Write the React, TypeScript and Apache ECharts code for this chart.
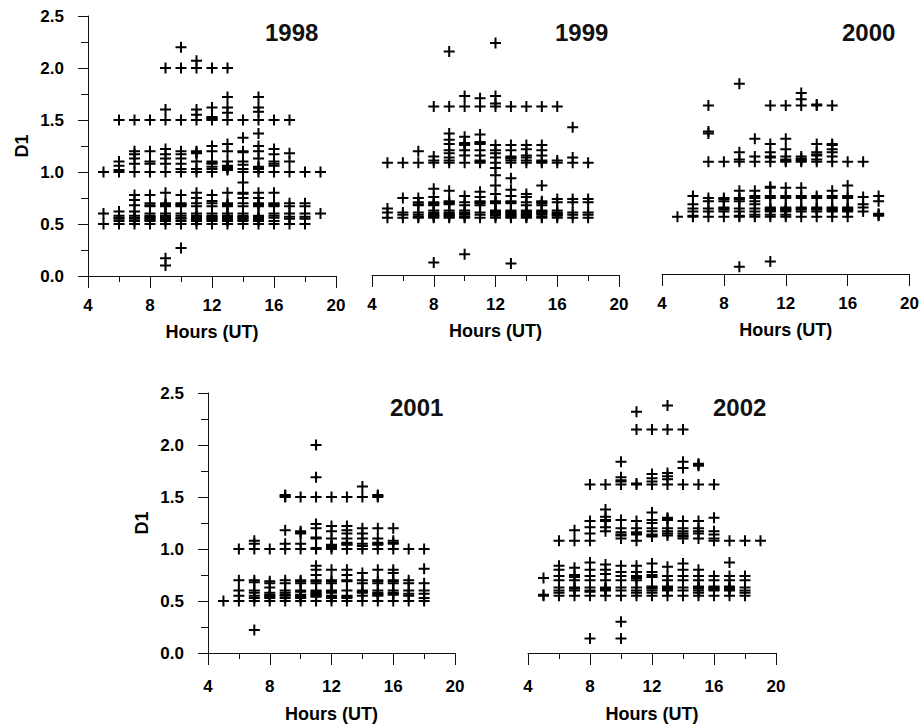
import React, { useEffect, useRef } from "react";
import * as echarts from "echarts";

// Hour (UT) -> list of D1 values, per year
const d1998: [number, number[]][] = [
  [5, [1.0, 0.6, 0.5]],
  [6, [1.5, 1.1, 1.06, 1.02, 1.0, 0.62, 0.58, 0.56, 0.55, 0.53, 0.5]],
  [7, [1.5, 1.2, 1.17, 1.13, 1.08, 1.0, 0.78, 0.73, 0.68, 0.62, 0.58, 0.56, 0.55, 0.53, 0.5]],
  [8, [1.5, 1.2, 1.1, 1.08, 1.0, 0.78, 0.7, 0.68, 0.67, 0.6, 0.58, 0.57, 0.56, 0.55, 0.54, 0.53, 0.5]],
  [9, [2.0, 1.6, 1.5, 1.22, 1.17, 1.13, 1.08, 1.0, 0.8, 0.7, 0.69, 0.68, 0.67, 0.6, 0.58, 0.57, 0.56, 0.55, 0.54, 0.53, 0.5, 0.17, 0.1]],
  [10, [2.2, 2.0, 1.5, 1.2, 1.17, 1.13, 1.08, 1.03, 1.0, 0.78, 0.7, 0.69, 0.68, 0.67, 0.6, 0.58, 0.56, 0.55, 0.53, 0.5, 0.27]],
  [11, [2.07, 2.0, 1.6, 1.55, 1.5, 1.2, 1.19, 1.18, 1.1, 1.03, 1.0, 0.8, 0.75, 0.7, 0.67, 0.6, 0.58, 0.57, 0.56, 0.55, 0.54, 0.53, 0.5]],
  [12, [2.0, 1.62, 1.53, 1.52, 1.51, 1.5, 1.25, 1.2, 1.1, 1.09, 1.08, 1.05, 1.03, 1.0, 0.78, 0.72, 0.7, 0.67, 0.6, 0.58, 0.57, 0.56, 0.55, 0.54, 0.53, 0.5]],
  [13, [2.0, 1.72, 1.62, 1.57, 1.5, 1.27, 1.2, 1.1, 1.06, 1.05, 1.04, 1.03, 1.02, 0.8, 0.7, 0.69, 0.68, 0.67, 0.6, 0.58, 0.57, 0.56, 0.55, 0.54, 0.53, 0.5]],
  [14, [1.5, 1.33, 1.2, 1.19, 1.1, 1.07, 1.03, 1.0, 0.9, 0.8, 0.79, 0.75, 0.7, 0.67, 0.6, 0.58, 0.57, 0.56, 0.55, 0.54, 0.53, 0.5]],
  [15, [1.72, 1.62, 1.58, 1.5, 1.37, 1.25, 1.2, 1.13, 1.05, 1.04, 1.03, 1.0, 0.8, 0.75, 0.7, 0.69, 0.68, 0.67, 0.58, 0.57, 0.56, 0.55, 0.54, 0.53, 0.5]],
  [16, [1.5, 1.22, 1.17, 1.1, 1.08, 1.06, 1.0, 0.8, 0.7, 0.69, 0.68, 0.67, 0.6, 0.58, 0.56, 0.53, 0.5]],
  [17, [1.5, 1.18, 1.1, 1.0, 0.7, 0.67, 0.6, 0.57, 0.55, 0.5]],
  [18, [1.0, 0.7, 0.67, 0.6, 0.57, 0.55, 0.5]],
  [19, [1.0, 0.6]],
];

const d1999: [number, number[]][] = [
  [5, [1.08, 0.64, 0.6, 0.55]],
  [6, [1.08, 0.74, 0.6, 0.58, 0.55]],
  [7, [1.19, 1.08, 0.74, 0.7, 0.68, 0.67, 0.6, 0.58, 0.56, 0.55]],
  [8, [1.62, 1.14, 1.1, 1.08, 0.83, 0.75, 0.7, 0.69, 0.68, 0.67, 0.62, 0.6, 0.59, 0.58, 0.57, 0.56, 0.55, 0.12]],
  [9, [2.15, 1.62, 1.36, 1.3, 1.26, 1.2, 1.17, 1.13, 1.1, 1.08, 0.81, 0.71, 0.7, 0.69, 0.68, 0.62, 0.6, 0.59, 0.58, 0.57, 0.56, 0.55]],
  [10, [1.72, 1.62, 1.33, 1.27, 1.26, 1.25, 1.2, 1.15, 1.08, 0.76, 0.7, 0.67, 0.62, 0.6, 0.59, 0.58, 0.56, 0.55, 0.2]],
  [11, [1.7, 1.62, 1.35, 1.28, 1.27, 1.26, 1.2, 1.15, 1.1, 1.09, 1.08, 0.8, 0.75, 0.71, 0.7, 0.69, 0.67, 0.6, 0.58, 0.55]],
  [12, [2.23, 1.72, 1.65, 1.62, 1.25, 1.2, 1.17, 1.13, 1.08, 1.03, 0.96, 0.86, 0.78, 0.71, 0.7, 0.69, 0.62, 0.61, 0.6, 0.59, 0.58, 0.57, 0.55]],
  [13, [1.62, 1.25, 1.2, 1.14, 1.13, 1.12, 1.1, 1.08, 0.93, 0.82, 0.76, 0.71, 0.7, 0.69, 0.62, 0.61, 0.6, 0.59, 0.58, 0.57, 0.56, 0.55, 0.11]],
  [14, [1.62, 1.25, 1.21, 1.15, 1.13, 1.1, 1.08, 0.78, 0.75, 0.7, 0.67, 0.62, 0.61, 0.6, 0.59, 0.58, 0.57, 0.56, 0.55]],
  [15, [1.62, 1.25, 1.2, 1.15, 1.1, 1.09, 1.08, 0.86, 0.71, 0.7, 0.69, 0.67, 0.62, 0.61, 0.6, 0.59, 0.58, 0.56, 0.55]],
  [16, [1.62, 1.1, 1.08, 0.73, 0.7, 0.62, 0.6, 0.59, 0.58, 0.57, 0.55]],
  [17, [1.42, 1.13, 1.08, 0.73, 0.7, 0.6, 0.58, 0.55]],
  [18, [1.08, 0.73, 0.7, 0.6, 0.58, 0.55]],
];

const d2000: [number, number[]][] = [
  [5, [0.55]],
  [6, [0.75, 0.67, 0.63, 0.6, 0.56, 0.55]],
  [7, [1.62, 1.37, 1.35, 1.08, 0.73, 0.7, 0.63, 0.6, 0.55]],
  [8, [1.08, 0.73, 0.72, 0.7, 0.64, 0.63, 0.62, 0.6, 0.55]],
  [9, [1.83, 1.17, 1.1, 1.08, 0.8, 0.73, 0.72, 0.7, 0.63, 0.6, 0.56, 0.55, 0.07]],
  [10, [1.3, 1.13, 1.08, 0.8, 0.75, 0.73, 0.7, 0.67, 0.63, 0.6, 0.57, 0.55]],
  [11, [1.62, 1.25, 1.17, 1.13, 1.12, 1.08, 0.84, 0.83, 0.75, 0.73, 0.64, 0.63, 0.62, 0.61, 0.6, 0.57, 0.55, 0.12]],
  [12, [1.62, 1.3, 1.2, 1.13, 1.1, 1.09, 1.08, 0.83, 0.75, 0.73, 0.64, 0.63, 0.62, 0.61, 0.6, 0.57, 0.55]],
  [13, [1.74, 1.68, 1.62, 1.13, 1.11, 1.1, 1.09, 1.08, 0.83, 0.75, 0.73, 0.64, 0.63, 0.62, 0.6, 0.55]],
  [14, [1.63, 1.62, 1.25, 1.17, 1.15, 1.14, 1.1, 1.08, 0.75, 0.73, 0.64, 0.63, 0.62, 0.6, 0.55]],
  [15, [1.62, 1.25, 1.24, 1.2, 1.17, 1.13, 1.08, 0.8, 0.75, 0.73, 0.64, 0.63, 0.62, 0.61, 0.6, 0.55]],
  [16, [1.08, 0.85, 0.75, 0.73, 0.64, 0.63, 0.62, 0.61, 0.6, 0.55]],
  [17, [1.08, 0.74, 0.67, 0.64, 0.6]],
  [18, [0.75, 0.7, 0.58, 0.57, 0.56]],
];

const d2001: [number, number[]][] = [
  [5, [0.5]],
  [6, [1.0, 0.7, 0.6, 0.55, 0.5]],
  [7, [1.08, 1.05, 1.0, 0.7, 0.68, 0.6, 0.58, 0.55, 0.53, 0.5, 0.22]],
  [8, [1.0, 0.69, 0.67, 0.63, 0.58, 0.56, 0.55, 0.54, 0.53, 0.5]],
  [9, [1.52, 1.51, 1.5, 1.18, 1.05, 1.0, 0.7, 0.67, 0.6, 0.58, 0.56, 0.55, 0.53, 0.5]],
  [10, [1.5, 1.17, 1.16, 1.15, 1.05, 1.0, 0.7, 0.69, 0.67, 0.6, 0.59, 0.56, 0.55, 0.54, 0.53, 0.5]],
  [11, [2.0, 1.69, 1.5, 1.24, 1.2, 1.11, 1.1, 1.01, 1.0, 0.84, 0.8, 0.75, 0.7, 0.69, 0.67, 0.6, 0.59, 0.58, 0.57, 0.56, 0.55, 0.54, 0.5]],
  [12, [1.5, 1.22, 1.17, 1.1, 1.04, 1.03, 1.02, 1.0, 0.8, 0.7, 0.69, 0.67, 0.6, 0.59, 0.58, 0.55, 0.54, 0.53, 0.5]],
  [13, [1.5, 1.22, 1.18, 1.15, 1.1, 1.06, 1.05, 1.04, 1.0, 0.8, 0.75, 0.7, 0.69, 0.6, 0.55, 0.54, 0.53, 0.5]],
  [14, [1.6, 1.5, 1.2, 1.15, 1.1, 1.05, 1.03, 1.0, 0.77, 0.7, 0.67, 0.6, 0.59, 0.58, 0.55, 0.5]],
  [15, [1.52, 1.51, 1.5, 1.2, 1.1, 1.06, 1.05, 1.04, 1.0, 0.8, 0.7, 0.69, 0.67, 0.6, 0.58, 0.57, 0.56, 0.55, 0.5]],
  [16, [1.2, 1.08, 1.06, 1.05, 1.0, 0.8, 0.77, 0.7, 0.69, 0.67, 0.6, 0.58, 0.57, 0.56, 0.5]],
  [17, [1.0, 0.7, 0.67, 0.6, 0.57, 0.55, 0.5]],
  [18, [1.0, 0.81, 0.67, 0.6, 0.57, 0.53, 0.5]],
];

const d2002: [number, number[]][] = [
  [5, [0.72, 0.56, 0.55]],
  [6, [1.08, 0.84, 0.8, 0.74, 0.7, 0.63, 0.6, 0.58, 0.55]],
  [7, [1.18, 1.08, 0.82, 0.75, 0.73, 0.7, 0.63, 0.62, 0.6, 0.55]],
  [8, [1.62, 1.27, 1.21, 1.15, 1.08, 0.87, 0.8, 0.74, 0.7, 0.63, 0.6, 0.59, 0.55, 0.14]],
  [9, [1.62, 1.38, 1.31, 1.28, 1.27, 1.21, 1.17, 0.85, 0.8, 0.76, 0.7, 0.63, 0.62, 0.61, 0.6, 0.55]],
  [10, [1.84, 1.69, 1.66, 1.65, 1.62, 1.28, 1.2, 1.16, 1.14, 1.13, 1.1, 0.84, 0.78, 0.74, 0.7, 0.63, 0.6, 0.55, 0.3, 0.14]],
  [11, [2.32, 2.15, 1.63, 1.62, 1.27, 1.2, 1.16, 1.15, 1.14, 1.08, 0.84, 0.78, 0.74, 0.73, 0.72, 0.7, 0.63, 0.6, 0.58, 0.55]],
  [12, [2.15, 1.72, 1.68, 1.65, 1.62, 1.35, 1.28, 1.25, 1.2, 1.17, 1.14, 1.13, 1.12, 0.86, 0.78, 0.75, 0.73, 0.64, 0.63, 0.62, 0.6, 0.58, 0.55]],
  [13, [2.38, 2.15, 1.73, 1.7, 1.67, 1.62, 1.3, 1.29, 1.28, 1.2, 1.17, 1.15, 1.13, 0.83, 0.74, 0.7, 0.64, 0.63, 0.62, 0.61, 0.6, 0.55]],
  [14, [2.15, 1.84, 1.78, 1.62, 1.27, 1.2, 1.17, 1.15, 1.13, 1.12, 1.1, 0.86, 0.8, 0.74, 0.7, 0.63, 0.6, 0.55]],
  [15, [1.82, 1.81, 1.8, 1.62, 1.27, 1.2, 1.17, 1.15, 1.1, 0.8, 0.74, 0.7, 0.64, 0.63, 0.62, 0.6, 0.58, 0.55]],
  [16, [1.62, 1.3, 1.17, 1.14, 1.1, 1.08, 0.74, 0.7, 0.64, 0.63, 0.62, 0.61, 0.6, 0.55]],
  [17, [1.08, 0.87, 0.74, 0.7, 0.64, 0.63, 0.62, 0.61, 0.6, 0.55]],
  [18, [1.08, 0.74, 0.7, 0.63, 0.6, 0.58, 0.55]],
  [19, [1.08]],
];

const years = ["1998", "1999", "2000", "2001", "2002"];
const yearData = [d1998, d1999, d2000, d2001, d2002];

const FONT = "'Liberation Sans', Arial, Helvetica, sans-serif";
const PLUS = "path://M9,0 H13 V9 H22 V13 H13 V22 H9 V13 H0 V9 H9 Z";

// layout of each panel (plot area)
const panels = [
  { left: 88, top: 16, width: 248, height: 260, yAxis: true, minor: true, titleX: 265, titleY: 20, labGap: 21, nameGap: 47 },
  { left: 372, top: 15, width: 247, height: 260, yAxis: false, minor: true, titleX: 555, titleY: 20, labGap: 21, nameGap: 47 },
  { left: 662, top: 14, width: 248, height: 260, yAxis: false, minor: false, titleX: 842, titleY: 20, labGap: 21, nameGap: 47 },
  { left: 208, top: 393, width: 247, height: 260, yAxis: true, minor: true, titleX: 390, titleY: 395, labGap: 25, nameGap: 52 },
  { left: 528, top: 393, width: 248, height: 260, yAxis: false, minor: true, titleX: 713, titleY: 395, labGap: 25, nameGap: 52 },
];

export default function App() {
  const ref = useRef<HTMLDivElement>(null);
  useEffect(() => {
    if (!ref.current) return;
    const chart = echarts.init(ref.current, null, { renderer: "svg" });
    const lineStyle = { color: "#111", width: 1 };
    const labelStyle = { fontFamily: FONT, fontWeight: "bold" as const, fontSize: 17, color: "#000" };
    const option: any = {
      animation: false,
      backgroundColor: "#fff",
      title: panels.map((p, i) => ({
        text: years[i],
        left: p.titleX,
        top: p.titleY,
        padding: 0,
        textStyle: { fontFamily: FONT, fontWeight: "bold", fontSize: 24, color: "#111" },
      })),
      grid: panels.map((p) => ({ left: p.left, top: p.top, width: p.width, height: p.height })),
      xAxis: panels.map((p, i) => ({
        gridIndex: i,
        type: "value",
        min: 4,
        max: 20,
        interval: 4,
        axisLine: { show: true, onZero: false, lineStyle },
        axisTick: { show: true, length: 12, lineStyle },
        minorTick: { show: p.minor, splitNumber: 2, length: 6, lineStyle },
        splitLine: { show: false },
        axisLabel: { ...labelStyle, margin: p.labGap },
        name: "Hours (UT)",
        nameLocation: "middle",
        nameGap: p.nameGap,
        nameTextStyle: { ...labelStyle, fontSize: 18 },
      })),
      yAxis: panels.map((p, i) => ({
        gridIndex: i,
        type: "value",
        min: 0,
        max: 2.5,
        interval: 0.5,
        show: p.yAxis,
        axisLine: { show: true, lineStyle },
        axisTick: { show: true, length: 10, lineStyle },
        minorTick: { show: true, splitNumber: 2, length: 7, lineStyle },
        splitLine: { show: false },
        axisLabel: { ...labelStyle, margin: 24, formatter: (v: number) => v.toFixed(1) },
        name: "D1",
        nameLocation: "middle",
        nameRotate: 90,
        nameGap: 57,
        nameTextStyle: { ...labelStyle, fontSize: 18 },
      })),
      series: yearData.map((d, i) => ({
        type: "scatter",
        xAxisIndex: i,
        yAxisIndex: i,
        symbol: PLUS,
        symbolSize: 11,
        silent: true,
        itemStyle: { color: "#000", opacity: 1 },
        data: d.flatMap(([h, vals]) => vals.map((v) => [h, v])),
      })),
    };
    chart.setOption(option);
    return () => chart.dispose();
  }, []);
  return (
    <div
      ref={ref}
      style={{ position: "fixed", left: 0, top: 0, width: 922, height: 725, background: "#fff" }}
    />
  );
}
